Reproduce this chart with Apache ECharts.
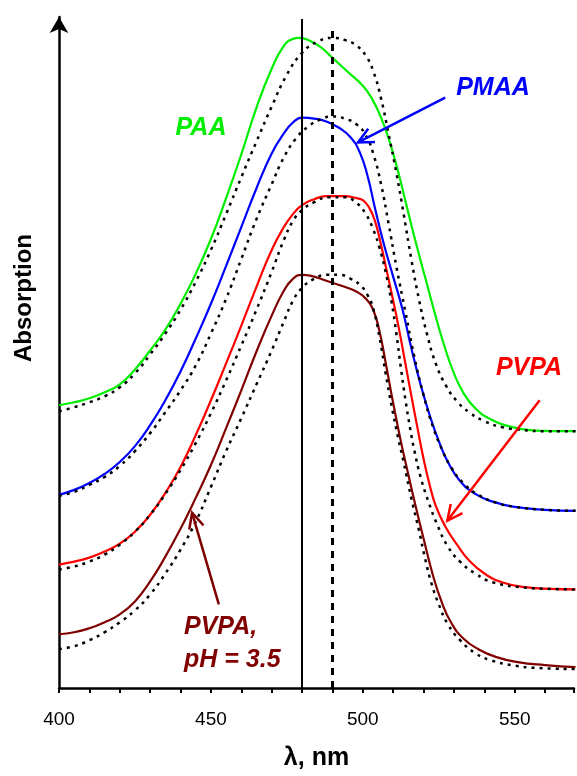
<!DOCTYPE html>
<html><head><meta charset="utf-8">
<script src="https://cdn.jsdelivr.net/npm/echarts@6/dist/echarts.min.js"></script>
<style>html,body{margin:0;padding:0;background:#fff}#c{width:577px;height:776px}</style>
</head><body><div id="c"></div>
<script>
// wavelength (nm), absorption (arbitrary units)
const paaSolid = [[400,284],[405,287],[410,291],[415,297],[420,305],[425,320],[430,339],[435,360],[440,386],[445,416],[450,451],[455,492],[460,536],[465,583],[470,622],[474,645],[477,652],[479,653],[482,651],[486,644],[490,633],[495,619],[500,605],[503,592],[506,573],[509,547],[512,514],[515,477],[518,441],[521,407],[524,373],[527,342],[530,316],[533,297],[537,281],[542,270],[548,263],[555,259],[562,258],[570,258]];
const paaDotted = [[400,278],[405,282],[410,287],[415,293],[420,302],[425,316],[430,335],[435,356],[440,380],[445,408],[450,440],[455,476],[460,513],[465,549],[470,584],[475,616],[480,638],[485,649],[490,653],[494,651],[498,645],[501,635],[503.5,619],[506,592],[508.5,556],[511,518],[513.5,475],[516,430],[518.5,390],[521,357],[524,326],[527.5,303],[531,288],[535,277],[540,268],[546,262],[553,259],[560,258],[570,258]];
const pmaaSolid = [[400,194],[405,199],[410,206],[415,215],[420,227],[425,243],[430,264],[435,289],[440,318],[445,351],[450,386],[455,424],[460,463],[465,502],[470,537],[474,557],[477,568],[480,573],[484,572],[488,569],[492,563],[496,553],[499,538],[501.5,515],[504,482],[507,445],[510,413],[513,381],[516,341],[519,305],[522,274],[525,248],[528,227],[532,208],[537,195],[543,187],[550,182],[560,179],[570,178]];
const pmaaDotted = [[400,193],[405,197],[410,204],[415,212],[420,223],[425,238],[430,256],[435,277],[440,299],[445,324],[450,356],[455,391],[460,431],[465,471],[470,506],[474,533],[478,552],[482,564],[486,571],[490,574],[494,572],[498,566],[501,555],[503.5,536],[506,506],[508.5,466],[511,424],[514,378],[517,332],[520,294],[523,263],[526,240],[529,222],[533,206],[538,194],[544,186],[550,182],[560,179],[570,178]];
const pvpaSolid = [[400,124],[405,127],[410,131],[415,137],[420,145],[425,157],[430,174],[435,196],[440,222],[445,254],[450,289],[455,326],[460,364],[465,403],[470,440],[474,463],[477,476],[480,485],[484,491],[488,494],[494,494],[498,492],[500,490],[502,483],[504,469],[506,445],[508,417],[510,389],[512,359],[514,326],[516,293],[518,261],[520,230],[522,204],[524,183],[527,163],[531,144],[535,128],[540,115],[546,106],[554,101],[562,99.5],[570,99]];
const pvpaDotted = [[400,119],[405,122],[410,127],[415,134],[420,144],[425,157],[430,174],[435,195],[440,219],[445,246],[450,276],[455,309],[460,344],[465,380],[470,418],[474,450],[477,469],[480,480],[484,488],[489,493],[494,493],[498,487],[501,476],[503.5,460],[505.5,442],[507.5,418],[509.5,387],[511,357],[512.5,322],[514,290],[515.5,262],[517,238],[519,212],[521.5,188],[524.5,164],[528,142],[532,127],[537,115],[543,106],[553,101],[562,99.5],[570,99]];
const pvpa35Solid = [[400,54],[405,56],[410,60],[415,66],[420,74],[425,87],[430,107],[435,132],[440,160],[445,191],[450,224],[455,261],[460,299],[465,338],[470,374],[474,399],[477,411],[480,415],[483,414],[488,409],[494,403],[498,398],[501,391],[503.5,379],[505.5,358],[507.5,327],[510,286],[512.5,248],[515,214],[517.5,181],[520,150],[523,114],[526,86],[529,66],[533,50],[538,39],[544,31],[551,26],[560,23],[570,21]];
const pvpa35Dotted = [[400,39],[405,42],[410,48],[415,56],[420,66],[425,78],[430,94],[435,115],[440,139],[445,167],[450,202],[455,238],[460,271],[465,305],[470,339],[474,368],[477,389],[480,402],[484,411],[488,415],[492,415],[496,411],[499,405],[501.5,395],[503.5,380],[505.5,352],[507.5,316],[509.5,283],[511.5,253],[513.5,226],[516,190],[518.5,158],[520.5,130],[522.5,106],[525,84],[528,64],[532,48],[537,35],[542,28],[549,23],[558,20],[570,19]];
const refWavelengths = [480, 490];
const refTops = [672, 666];
const xTickLabels = [400, 450, 500, 550];
// annotation arrows in data coordinates [tail, tip]
const arrowPMAA = [[527.1,593],[498.4,548]];
const arrowPVPA = [[558.2,289],[527.8,168]];
const arrowPVPA35 = [[452.6,84],[443.8,176]];

const FONT = 'Liberation Sans, Arial, sans-serif';
const chart = echarts.init(document.getElementById('c'));

function solid(name, data, color) {
  return {name, type:'line', data, smooth:0.5, symbol:'none', clip:false, z:2,
    lineStyle:{color, width:2.2}};
}
function dotted(name, data) {
  return {name, type:'line', data, smooth:0.5, symbol:'none', clip:false, z:3,
    lineStyle:{color:'#000', width:2.5, type:[3,5]}};
}

const option = {
  animation:false,
  grid:{left:59, right:0, top:17, bottom:85},
  xAxis:{type:'value', min:400, max:569.5, interval:10,
    axisLine:{lineStyle:{color:'#000', width:2.5}},
    axisTick:{length:5, lineStyle:{width:2, color:'#000'}},
    axisLabel:{formatter:v => xTickLabels.includes(v) ? String(v) : '', fontSize:19, color:'#000', margin:22, fontFamily:FONT},
    splitLine:{show:false},
    name:'λ, nm', nameLocation:'middle', nameGap:58,
    nameTextStyle:{fontSize:25, fontWeight:'bold', color:'#000', fontFamily:FONT}},
  yAxis:{type:'value', min:0, max:674,
    axisLine:{show:true, symbol:['none','arrow'], symbolSize:[14,16], symbolOffset:[0,0], lineStyle:{color:'#000', width:2.5}},
    axisTick:{show:false}, axisLabel:{show:false}, splitLine:{show:false}},
  series:[
    solid('PAA', paaSolid, '#00ee00'),
    solid('PMAA', pmaaSolid, '#0000ff'),
    solid('PVPA', pvpaSolid, '#ff0000'),
    solid('PVPA pH 3.5', pvpa35Solid, '#800000'),
    dotted('PAA shifted', paaDotted),
    dotted('PMAA shifted', pmaaDotted),
    dotted('PVPA shifted', pvpaDotted),
    dotted('PVPA pH 3.5 shifted', pvpa35Dotted),
    {type:'line', data:[], symbol:'none',
      markLine:{silent:true, symbol:'none', label:{show:false}, animation:false,
        data:[
          [{coord:[refWavelengths[0],0], lineStyle:{color:'#000', width:2, type:'solid'}},{coord:[refWavelengths[0],refTops[0]]}],
          [{coord:[refWavelengths[1],0], lineStyle:{color:'#000', width:3, type:[7,6]}},{coord:[refWavelengths[1],refTops[1]]}]
        ]}}
  ],
  graphic:[
    {type:'text', x:24, y:298, rotation:Math.PI/2, style:{text:'Absorption', font:'bold 24px '+FONT, fill:'#000', align:'center', verticalAlign:'middle'}},
    {type:'text', x:201, y:128, style:{text:'PAA', font:'italic bold 25px '+FONT, fill:'#00ee00', align:'center', verticalAlign:'middle'}},
    {type:'text', x:493, y:88, style:{text:'PMAA', font:'italic bold 25px '+FONT, fill:'#0000ff', align:'center', verticalAlign:'middle'}},
    {type:'text', x:529, y:368, style:{text:'PVPA', font:'italic bold 25px '+FONT, fill:'#ff0000', align:'center', verticalAlign:'middle'}},
    {type:'text', x:184, y:627, style:{text:'PVPA,', font:'italic bold 25px '+FONT, fill:'#800000', align:'left', verticalAlign:'middle'}},
    {type:'text', x:184, y:660, style:{text:'pH = 3.5', font:'italic bold 25px '+FONT, fill:'#800000', align:'left', verticalAlign:'middle'}}
  ]
};
chart.setOption(option);

function arrowGraphic(pair, color) {
  const a = chart.convertToPixel({gridIndex:0}, pair[0]);
  const b = chart.convertToPixel({gridIndex:0}, pair[1]);
  const ang = Math.atan2(a[1]-b[1], a[0]-b[0]);
  const L = 17, h = 0.45;
  const w1 = [b[0] + L*Math.cos(ang+h), b[1] + L*Math.sin(ang+h)];
  const w2 = [b[0] + L*Math.cos(ang-h), b[1] + L*Math.sin(ang-h)];
  return [
    {type:'polyline', shape:{points:[a,b]}, style:{stroke:color, lineWidth:2.5, fill:null}, z:10},
    {type:'polyline', shape:{points:[w1,b,w2]}, style:{stroke:color, lineWidth:2.5, fill:null}, z:10}
  ];
}
chart.setOption({graphic: option.graphic.concat(
  arrowGraphic(arrowPMAA, '#0000ff'),
  arrowGraphic(arrowPVPA, '#ff0000'),
  arrowGraphic(arrowPVPA35, '#800000')
)});
</script>
</body></html>
